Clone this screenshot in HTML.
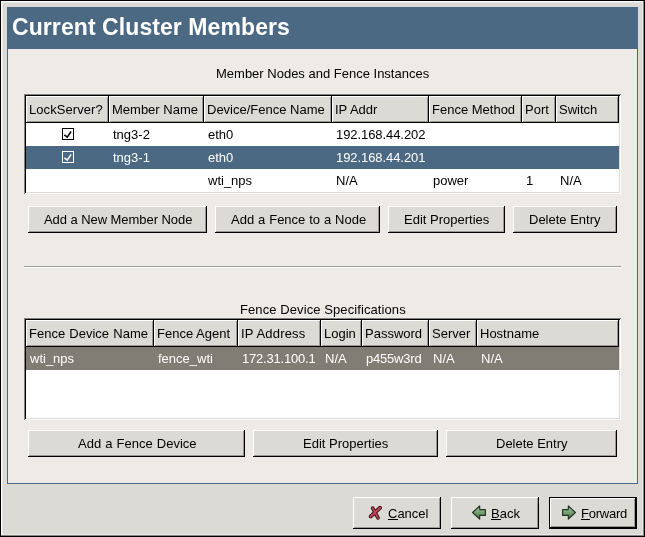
<!DOCTYPE html>
<html>
<head>
<meta charset="utf-8">
<style>
html,body{margin:0;padding:0;}
body{width:645px;height:537px;overflow:hidden;background:#dcdad5;font-family:"Liberation Sans",sans-serif;font-size:13px;color:#000;position:relative;}
.a{position:absolute;}
.t{position:absolute;white-space:nowrap;line-height:15px;height:15px;}
.t,.hc span,.row span,.btn span{will-change:transform;}
/* window frame */
#win{left:0;top:0;width:645px;height:537px;background:#dcdad5;}
#wb-t{left:0;top:0;width:645px;height:1px;background:#000;}
#wb-l{left:0;top:0;width:1px;height:537px;background:#000;}
#wh-t{left:1px;top:1px;width:642px;height:1px;background:#fff;}
#wh-t2{left:2px;top:2px;width:640px;height:1px;background:#e6e5e1;}
#wh-l2{left:2px;top:2px;width:1px;height:532px;background:#e6e5e1;}
#wh-l{left:1px;top:1px;width:1px;height:534px;background:#fff;}
#wb-b{left:0;top:536px;width:645px;height:1px;background:#000;}
#wd-b{left:1px;top:535px;width:643px;height:1px;background:#858583;}
#wb-r{left:644px;top:0;width:1px;height:537px;background:#000;}
#wd-r{left:643px;top:1px;width:1px;height:535px;background:#858583;}
#wh-b{left:2px;top:534px;width:641px;height:1px;background:#e8e8e6;}
#wh-r{left:642px;top:2px;width:1px;height:533px;background:#e8e8e6;}
/* blue frame */
#frame{left:7px;top:7px;width:629px;height:475px;border:1px solid #4b6983;background:#eeebe7;}
#hdr{left:7px;top:7px;width:631px;height:42px;background:#4b6983;}
#title{left:12px;top:14px;letter-spacing:0.08px;font-size:23px;font-weight:bold;color:#fff;line-height:27px;height:27px;}
/* tables */
.tbl{background:#fff;}
.f-t{background:#83817c;} .f-k{background:#000;} .f-g{background:#dcdad5;} .f-w{background:#fff;}
.hc{position:absolute;height:27px;background:#dcdad5;box-sizing:border-box;border-top:1px solid #fff;border-left:1px solid #fff;}
.hc:before{content:"";position:absolute;right:0;top:-1px;bottom:0;width:1px;background:#000;}
.hc:after{content:"";position:absolute;left:-1px;right:0;bottom:0;height:1px;background:#000;}
.hc i{position:absolute;right:1px;top:0;bottom:1px;width:1px;background:#9c9992;}
.hc b{position:absolute;left:0;right:1px;bottom:1px;height:1px;background:#9c9992;}
.hc span{position:absolute;left:2px;top:5px;line-height:15px;white-space:nowrap;}
.row{position:absolute;height:23px;}
.sel{background:#4b6983;color:#fff;}
.selg{background:#807d74;color:#fff;}
.row span{position:absolute;top:4px;line-height:15px;white-space:nowrap;}
/* buttons */
.btn{position:absolute;background:#dcdad5;box-sizing:border-box;border-top:1px solid #fff;border-left:1px solid #fff;text-align:center;}
.btn:before{content:"";position:absolute;right:0;top:-1px;bottom:0;width:1px;background:#000;}
.btn:after{content:"";position:absolute;left:-1px;right:0;bottom:0;height:1px;background:#000;}
.btn i{position:absolute;right:1px;top:0;bottom:1px;width:1px;background:#9c9992;}
.btn b{position:absolute;left:0;right:1px;bottom:1px;height:1px;background:#9c9992;}
.btn span{position:absolute;white-space:nowrap;line-height:15px;}
u{text-decoration:none;position:relative;}
u:after{content:"";position:absolute;left:0;top:13px;height:1px;width:10px;background:#000;}
u.w9:after{width:9px;}
.cb{position:absolute;width:12px;height:12px;box-sizing:border-box;border:1px solid #000;background:#fff;}
</style>
</head>
<body>
<div id="win" class="a"></div>
<div id="frame" class="a"></div>
<div id="hdr" class="a"></div>
<div id="title" class="t">Current Cluster Members</div>

<div class="t" style="left:216px;top:66px;">Member Nodes and Fence Instances</div>

<!-- TABLE 1 : frame x24..620 y94..193 -->
<div class="a f-w" style="left:24px;top:94px;width:597px;height:100px;"></div>
<div class="a f-g" style="left:24px;top:94px;width:596px;height:99px;"></div>
<div class="a f-t" style="left:24px;top:94px;width:597px;height:1px;"></div>
<div class="a f-t" style="left:24px;top:94px;width:1px;height:100px;"></div>
<div class="a f-k" style="left:25px;top:95px;width:595px;height:1px;"></div>
<div class="a f-k" style="left:25px;top:95px;width:1px;height:98px;"></div>
<div class="a tbl" style="left:26px;top:96px;width:593px;height:96px;"></div>

<div class="hc" style="left:26px;top:96px;width:83px;"><i></i><b></b><span style="letter-spacing:0.07px;">LockServer?</span></div>
<div class="hc" style="left:109px;top:96px;width:95px;"><i></i><b></b><span>Member Name</span></div>
<div class="hc" style="left:204px;top:96px;width:128px;"><i></i><b></b><span>Device/Fence Name</span></div>
<div class="hc" style="left:332px;top:96px;width:97px;"><i></i><b></b><span>IP Addr</span></div>
<div class="hc" style="left:429px;top:96px;width:93px;"><i></i><b></b><span>Fence Method</span></div>
<div class="hc" style="left:522px;top:96px;width:34px;"><i></i><b></b><span>Port</span></div>
<div class="hc" style="left:556px;top:96px;width:63px;"><i></i><b></b><span>Switch</span></div>

<div class="row" style="left:26px;top:123px;width:593px;">
  <span style="left:87px;">tng3-2</span><span style="left:182px;">eth0</span><span style="left:310px;letter-spacing:-0.07px;">192.168.44.202</span>
</div>
<div class="row sel" style="left:26px;top:146px;width:593px;">
  <span style="left:87px;">tng3-1</span><span style="left:182px;">eth0</span><span style="left:310px;letter-spacing:-0.07px;">192.168.44.201</span>
</div>
<div class="row" style="left:26px;top:169px;width:593px;">
  <span style="left:182px;">wti_nps</span><span style="left:310px;">N/A</span><span style="left:407px;">power</span><span style="left:500px;">1</span><span style="left:534px;">N/A</span>
</div>
<div class="cb" style="left:62px;top:128px;"></div>
<svg class="a" style="left:62px;top:128px;" width="12" height="12" viewBox="0 0 12 12"><path d="M2.4 6.9 L5.2 9.1 L9.1 3.5" fill="none" stroke="#000" stroke-width="1.45"/></svg>
<div class="cb" style="left:62px;top:151px;background:#4b6983;border-color:#fff;"></div>
<svg class="a" style="left:62px;top:151px;" width="12" height="12" viewBox="0 0 12 12"><path d="M2.4 6.9 L5.2 9.1 L9.1 3.5" fill="none" stroke="#fff" stroke-width="1.45"/></svg>

<!-- buttons row 1 : y206..232 -->
<div class="btn" style="left:28px;top:206px;width:179px;height:27px;"><i></i><b></b><span style="left:15px;top:5px;letter-spacing:-0.06px;">Add a New Member Node</span></div>
<div class="btn" style="left:215px;top:206px;width:165px;height:27px;"><i></i><b></b><span style="left:15px;top:5px;word-spacing:0.3px;">Add a Fence to a Node</span></div>
<div class="btn" style="left:388px;top:206px;width:117px;height:27px;"><i></i><b></b><span style="left:15px;top:5px;">Edit Properties</span></div>
<div class="btn" style="left:513px;top:206px;width:104px;height:27px;"><i></i><b></b><span style="left:15px;top:5px;">Delete Entry</span></div>

<!-- separator -->
<div class="a" style="left:24px;top:266px;width:597px;height:1px;background:#a19d96;"></div>
<div class="a" style="left:24px;top:267px;width:597px;height:1px;background:#fff;"></div>

<div class="t" style="left:240px;top:302px;letter-spacing:0.09px;">Fence Device Specifications</div>

<!-- TABLE 2 : frame x24..620 y318..419 -->
<div class="a f-w" style="left:24px;top:318px;width:597px;height:102px;"></div>
<div class="a f-g" style="left:24px;top:318px;width:596px;height:101px;"></div>
<div class="a f-t" style="left:24px;top:318px;width:597px;height:1px;"></div>
<div class="a f-t" style="left:24px;top:318px;width:1px;height:102px;"></div>
<div class="a f-k" style="left:25px;top:319px;width:595px;height:1px;"></div>
<div class="a f-k" style="left:25px;top:319px;width:1px;height:100px;"></div>
<div class="a tbl" style="left:26px;top:320px;width:593px;height:98px;"></div>

<div class="hc" style="left:26px;top:320px;width:128px;"><i></i><b></b><span style="word-spacing:0.6px;">Fence Device Name</span></div>
<div class="hc" style="left:154px;top:320px;width:84px;"><i></i><b></b><span>Fence Agent</span></div>
<div class="hc" style="left:238px;top:320px;width:83px;"><i></i><b></b><span style="letter-spacing:0.18px;">IP Address</span></div>
<div class="hc" style="left:321px;top:320px;width:41px;"><i></i><b></b><span>Login</span></div>
<div class="hc" style="left:362px;top:320px;width:67px;"><i></i><b></b><span>Password</span></div>
<div class="hc" style="left:429px;top:320px;width:48px;"><i></i><b></b><span>Server</span></div>
<div class="hc" style="left:477px;top:320px;width:142px;"><i></i><b></b><span>Hostname</span></div>

<div class="row selg" style="left:26px;top:347px;width:593px;">
  <span style="left:4px;">wti_nps</span><span style="left:132px;">fence_wti</span><span style="left:216px;letter-spacing:-0.2px;">172.31.100.1</span><span style="left:299px;">N/A</span><span style="left:340px;letter-spacing:-0.2px;">p455w3rd</span><span style="left:407px;">N/A</span><span style="left:455px;">N/A</span>
</div>

<!-- buttons row 2 : y430..456 -->
<div class="btn" style="left:28px;top:430px;width:217px;height:27px;"><i></i><b></b><span style="left:49px;top:5px;word-spacing:0.5px;">Add a Fence Device</span></div>
<div class="btn" style="left:253px;top:430px;width:185px;height:27px;"><i></i><b></b><span style="left:49px;top:5px;">Edit Properties</span></div>
<div class="btn" style="left:446px;top:430px;width:171px;height:27px;"><i></i><b></b><span style="left:49px;top:5px;">Delete Entry</span></div>

<!-- bottom buttons -->
<div class="btn" style="left:353px;top:497px;width:88px;height:32px;"><i></i><b></b><span style="left:34px;top:8px;"><u>C</u>ancel</span></div>
<div class="btn" style="left:451px;top:497px;width:88px;height:32px;"><i></i><b></b><span style="left:39px;top:8px;"><u>B</u>ack</span></div>
<!-- default button frame -->
<div class="a" style="left:549px;top:497px;width:88px;height:32px;background:#000;"></div>
<div class="btn" style="left:550px;top:498px;width:86px;height:30px;"><i></i><b></b><span style="left:30px;top:7px;letter-spacing:-0.25px;"><u class="w9">F</u>orward</span></div>

<!-- icons -->
<svg class="a" style="left:365px;top:502px;" width="22" height="22" viewBox="365 502 22 22">
  <g stroke-linecap="round" fill="none">
    <path d="M379.9 507.9 L370.8 516.4" stroke="#2e0a10" stroke-width="4"/>
    <path d="M372.7 508.1 L378 517.9" stroke="#2e0a10" stroke-width="3.6"/>
    <path d="M380.1 507.7 L370.6 516.6" stroke="#c6485c" stroke-width="2"/>
    <path d="M372.6 507.9 L378.1 518.1" stroke="#c6485c" stroke-width="1.7"/>
  </g>
</svg>
<svg class="a" style="left:468px;top:502px;" width="22" height="22" viewBox="468 502 22 22">
  <defs><linearGradient id="g1" x1="0" y1="0" x2="0" y2="1"><stop offset="0" stop-color="#a6c9a1"/><stop offset="0.45" stop-color="#7aa676"/><stop offset="1" stop-color="#426b3f"/></linearGradient></defs>
  <path d="M472.6 512.5 L479.7 505.8 L479.7 509.6 L485.4 509.6 L485.4 515.4 L479.7 515.4 L479.7 519.2 Z" fill="url(#g1)" stroke="#223322" stroke-width="1.15" stroke-linejoin="round"/>
</svg>
<svg class="a" style="left:558px;top:502px;" width="22" height="22" viewBox="558 502 22 22">
  <path d="M575.4 512.5 L568.3 505.8 L568.3 509.6 L562.6 509.6 L562.6 515.4 L568.3 515.4 L568.3 519.2 Z" fill="url(#g1)" stroke="#223322" stroke-width="1.15" stroke-linejoin="round"/>
</svg>

<!-- window border lines on top -->
<div id="wb-t" class="a"></div><div id="wb-l" class="a"></div>
<div id="wh-t" class="a"></div><div id="wh-l" class="a"></div>
<div id="wh-t2" class="a"></div><div id="wh-l2" class="a"></div><div id="wh-b" class="a"></div><div id="wh-r" class="a"></div><div id="wd-b" class="a"></div><div id="wd-r" class="a"></div>
<div id="wb-b" class="a"></div><div id="wb-r" class="a"></div>
</body>
</html>
